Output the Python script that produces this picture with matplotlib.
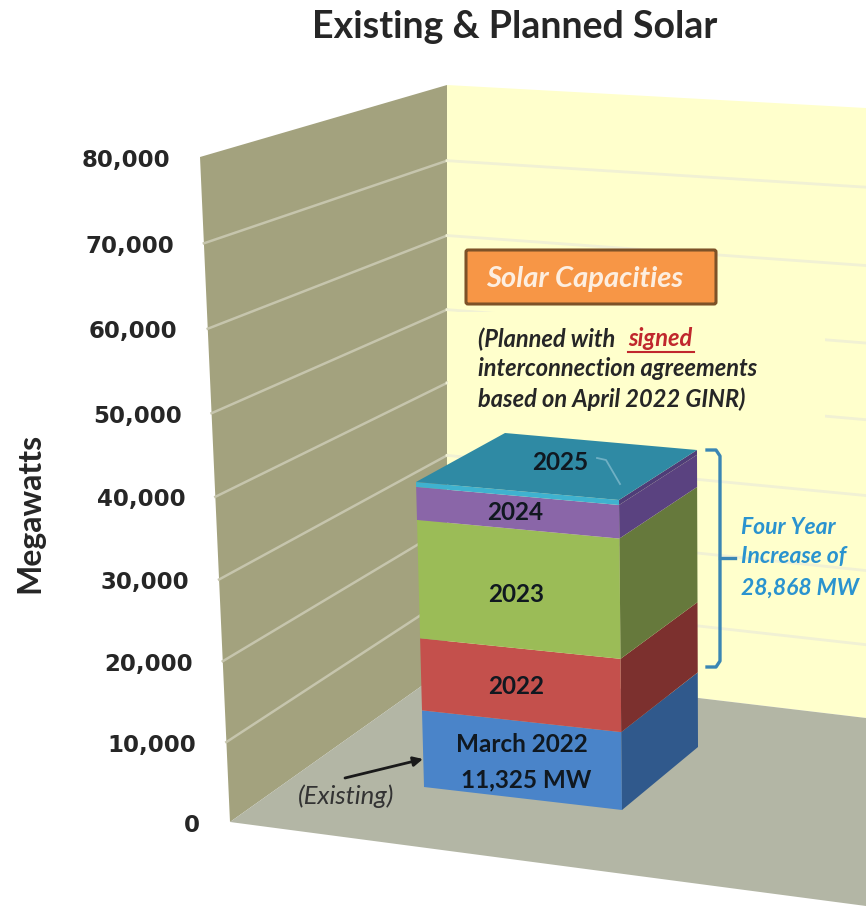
import matplotlib
matplotlib.use('Agg')
import matplotlib.pyplot as plt
import numpy as np
from matplotlib.patches import FancyBboxPatch, Polygon

W, H = 866, 908

# with the axis scale (labels say 11,325 but the block is drawn shorter)
layers = ['March 2022', '2022', '2023', '2024', '2025']
layer_mw = [10100, 9500, 15600, 4350, 650]
front_colors = ['#4a84c9', '#c4504c', '#9bbc57', '#8a66a8', '#3fb2cf']
side_colors = ['#30598c', '#7c302e', '#66793c', '#5a4280', '#4f3d78']
top_color = '#2f8aa4'

yticks = [0, 10000, 20000, 30000, 40000, 50000, 60000, 70000, 80000]
ytick_labels = ['0', '10,000', '20,000', '30,000', '40,000', '50,000', '60,000', '70,000', '80,000']
ymax = 80000

# projected corners in pixels: (x, y at zero, x, y at top)
wall_front = (230, 822, 200, 157)
wall_back = (447, 668, 447, 85)
wall_right = (866, 718, 866, 108)
bar_fl = (424, 787, 416, 482)
bar_fr = (622, 810, 619, 500)
bar_br = (698, 747, 697, 450)
bar_bl = (505, 433)


def on_edge(edge, frac):
    return edge[0] + (edge[2] - edge[0]) * frac, edge[1] + (edge[3] - edge[1]) * frac


def on_wall(edge, value):
    # gridlines bunch up a little towards the floor in the 3d view
    f = value / ymax
    return on_edge(edge, f - 0.044 * f * (1 - f))


fig = plt.figure(figsize=(W / 100, H / 100), dpi=100)
ax = fig.add_axes([0, 0, 1, 1])
ax.set_xlim(0, W)
ax.set_ylim(H, 0)
ax.axis('off')
plt.rcParams['font.family'] = ['Lato', 'DejaVu Sans']

# walls and floor
ax.add_patch(Polygon([wall_front[:2], wall_front[2:], wall_back[2:], wall_back[:2]], color='#a3a27e', lw=0))
ax.add_patch(Polygon([wall_back[:2], wall_back[2:], wall_right[2:], wall_right[:2]], color='#ffffcc', lw=0))
ax.add_patch(Polygon([wall_front[:2], wall_back[:2], wall_right[:2], (866, 906)], color='#b3b6a5', lw=0))

# gridlines
for v in yticks[1:-1]:
    p0, p1, p2 = on_wall(wall_front, v), on_wall(wall_back, v), on_wall(wall_right, v)
    ax.plot([p0[0], p1[0]], [p0[1], p1[1]], color='#c6c5ad', lw=1.8, zorder=2)
    ax.plot([p1[0], p2[0]], [p1[1], p2[1]], color='#f1f1d4', lw=2, zorder=2)

# axis labels, they follow the slanted front edge
for v, lab in zip(yticks, ytick_labels):
    x, y = on_wall(wall_front, v)
    ax.text(x - 30, y + 3, lab, ha='right', va='center', fontsize=16.5, fontweight='bold',
            family='DejaVu Sans', color='#262626')
ax.text(30, 513, 'Megawatts', rotation=90, ha='center', va='center', fontsize=23, fontweight='bold', color='#262626')
ax.text(515, 27, 'Existing & Planned Solar', ha='center', va='center', fontsize=27, fontweight='bold', color='#262626')

# note box hides the back wall gridlines behind it
ax.add_patch(Polygon([(448, 312), (825, 312), (825, 425), (448, 425)], color='#ffffcc', lw=0, zorder=3))

# stacked bar
tops = np.cumsum(layer_mw) / np.sum(layer_mw)
bottoms = np.r_[0, tops[:-1]]
for b, t, fc, sc in zip(bottoms, tops, front_colors, side_colors):
    ax.add_patch(Polygon([on_edge(bar_fl, b), on_edge(bar_fr, b), on_edge(bar_fr, t), on_edge(bar_fl, t)],
                         color=fc, lw=0, zorder=4))
    ax.add_patch(Polygon([on_edge(bar_fr, b), on_edge(bar_br, b), on_edge(bar_br, t), on_edge(bar_fr, t)],
                         color=sc, lw=0, zorder=4))
ax.add_patch(Polygon([bar_fl[2:], bar_fr[2:], bar_br[2:], bar_bl], color=top_color, lw=0, zorder=4))

# layer labels
label_kw = dict(ha='center', va='center', fontsize=17.5, fontweight='bold', color='#101820', zorder=6)
ax.text(560, 463, layers[4], **label_kw)
ax.text(515, 513, layers[3], **label_kw)
ax.text(516, 595, layers[2], **label_kw)
ax.text(516, 686, layers[1], **label_kw)
ax.text(522, 745, layers[0], **label_kw)
ax.text(526, 780, '11,325 MW', **label_kw)
ax.plot([597, 606, 620], [458, 460, 484], color='#6fb0c4', lw=1.3, zorder=5)

# orange title box
ax.add_patch(FancyBboxPatch((466, 250), 250, 54, boxstyle='round,pad=0,rounding_size=2',
                            fc='#f79646', ec='#7d5228', lw=2.2, zorder=5))
ax.text(585, 279, 'Solar Capacities', ha='center', va='center', fontsize=21, fontweight='bold',
        style='italic', color='#fdeee0', zorder=6)

# note
note_kw = dict(ha='left', va='center', fontsize=17, fontweight='bold', style='italic', color='#262626', zorder=6)
ax.text(478, 339, '(Planned with', **note_kw)
ax.text(628, 339, 'signed', **dict(note_kw, color='#c0272d'))
ax.plot([628, 694], [352, 352], color='#c0272d', lw=1.5, zorder=6)
ax.text(478, 369, 'interconnection agreements', **note_kw)
ax.text(478, 399, 'based on April 2022 GINR)', **note_kw)

# bracket
bracket_c = '#3a86b4'
ax.plot([707, 716, 720, 720, 716, 707], [450, 450, 456, 661, 667, 667], color=bracket_c, lw=2.4, zorder=5)
ax.plot([720, 735], [558, 558], color=bracket_c, lw=2.4, zorder=5)
increase_kw = dict(ha='left', va='center', fontsize=16.5, fontweight='bold', style='italic', color='#2a93cf', zorder=6)
ax.text(741, 527, 'Four Year', **increase_kw)
ax.text(741, 557, 'Increase of', **increase_kw)
ax.text(741, 588, '28,868 MW', **increase_kw)

# existing arrow
ax.annotate('', xy=(423, 759), xytext=(345, 778), zorder=6,
            arrowprops=dict(arrowstyle='-|>', color='#1a1a1a', lw=2, mutation_scale=14, shrinkA=0, shrinkB=0))
ax.text(346, 796, '(Existing)', ha='center', va='center', fontsize=18.5, style='italic', color='#333333', zorder=6)

fig.savefig('out.png', dpi=100)
